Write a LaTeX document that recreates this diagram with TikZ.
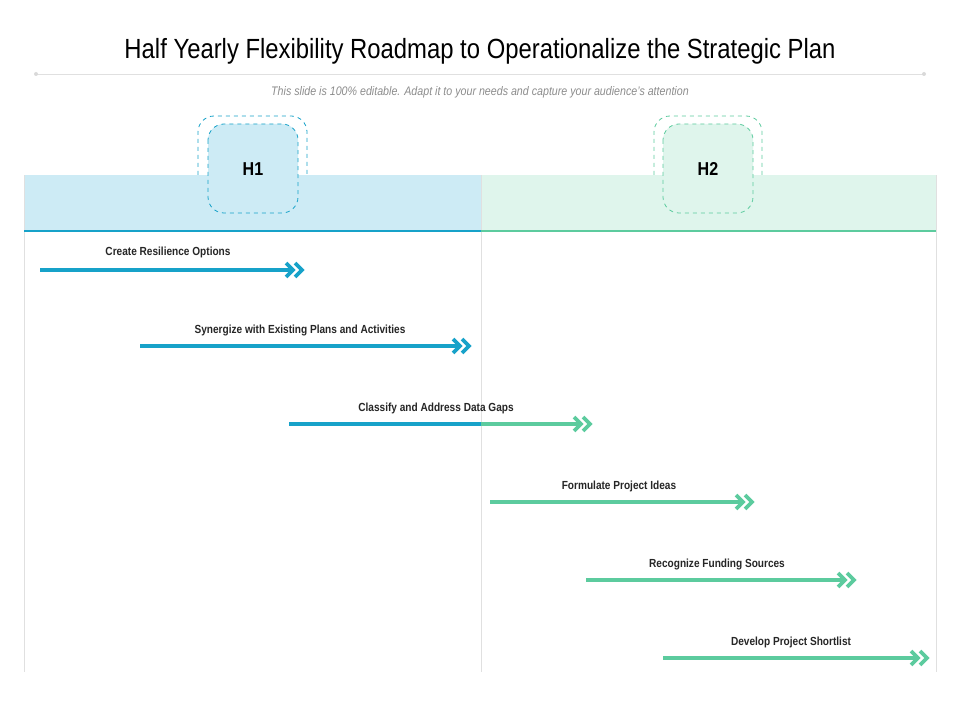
\documentclass[tikz,border=0pt]{standalone}
\usepackage{fontspec}
\setmainfont{Liberation Sans}[FakeStretch=0.86]
\definecolor{hblue}{HTML}{17A2C9}
\definecolor{hgreen}{HTML}{5CCB9E}
\definecolor{bandblue}{HTML}{CDEBF5}
\definecolor{bandgreen}{HTML}{DFF5EC}
\tikzset{
    bar/.style={line width=3.6pt},
    chevron/.style={line width=2.8pt,line join=miter},
    hbox/.style={draw,dashed,rounded corners=12pt,line width=0.6pt},
    tasklabel/.style={font=\fontsize{8.8}{10}\selectfont\bfseries,text=black!85},
}
% double chevron head at (#1,#2) in colour #3
\newcommand{\chevhead}[3]{
    \draw[chevron,#3] (#1-17,#2-7) -- (#1-10,#2) -- (#1-17,#2+7);
    \draw[chevron,#3] (#1-8,#2-7) -- (#1-1,#2) -- (#1-8,#2+7);
}
\begin{document}
\begin{tikzpicture}[x=0.75pt,y=-0.75pt]
                \useasboundingbox (0,0) rectangle (960,720);
                % title
                \node (title) at (480,51) {\fontsize{20.8}{24}\selectfont Half Yearly Flexibility Roadmap to Operationalize the Strategic Plan};
                \draw[black!12,line width=0.7pt] (36,74) -- (924,74);
                \fill[black!15] (36,74) circle (2) (924,74) circle (2);
                \node[text=black!45] (sub) at (480,92) {\fontsize{9.3}{10}\selectfont\itshape This slide is 100\% editable. Adapt it to your needs and capture your audience's attention};
                % bands
                \fill[bandblue] (24,175) rectangle (481,231);
                \fill[bandgreen] (481,175) rectangle (936,231);
                \draw[black!12] (24,175) -- (24,672) (481,175) -- (481,672) (936,175) -- (936,672);
                \draw[hblue,line width=1.6pt] (24,231) -- (481,231);
                \draw[hgreen,line width=1.6pt] (481,231) -- (936,231);
                % half-year boxes
                \fill[white] (198,116) rectangle (307,175);
                \draw[hblue,dashed,line width=0.6pt,rounded corners=12pt] (198,175) -- (198,116) -- (307,116) -- (307,175);
                \draw[hbox,hblue,fill=bandblue] (208,124) rectangle (298,213);
                \node[font=\fontsize{14}{16}\selectfont\bfseries] (h1) at (253,169) {H1};
                \fill[white] (654,116) rectangle (762,175);
                \draw[hgreen,dashed,line width=0.6pt,rounded corners=12pt] (654,175) -- (654,116) -- (762,116) -- (762,175);
                \draw[hbox,hgreen,fill=bandgreen] (663,124) rectangle (753,213);
                \node[font=\fontsize{14}{16}\selectfont\bfseries] (h2) at (708,169) {H2};
                % tasks
                \draw[bar,hblue] (40,270) -- (290,270); \chevhead{303}{270}{hblue}
                \node[tasklabel] (t1) at (168,252) {Create Resilience Options};
                \draw[bar,hblue] (140,346) -- (457,346); \chevhead{470}{346}{hblue}
                \node[tasklabel] (t2) at (300,330) {Synergize with Existing Plans and Activities};
                \draw[bar,hblue] (289,424) -- (481,424);
                \draw[bar,hgreen] (481,424) -- (578,424); \chevhead{591}{424}{hgreen}
                \node[tasklabel] (t3) at (436,408) {Classify and Address Data Gaps};
                \draw[bar,hgreen] (490,502) -- (740,502); \chevhead{753}{502}{hgreen}
                \node[tasklabel] (t4) at (619,486) {Formulate Project Ideas};
                \draw[bar,hgreen] (586,580) -- (842,580); \chevhead{855}{580}{hgreen}
                \node[tasklabel] (t5) at (717,564) {Recognize Funding Sources};
                \draw[bar,hgreen] (663,658) -- (915,658); \chevhead{928}{658}{hgreen}
                \node[tasklabel] (t6) at (791,642) {Develop Project Shortlist};
\end{tikzpicture}
\end{document}
